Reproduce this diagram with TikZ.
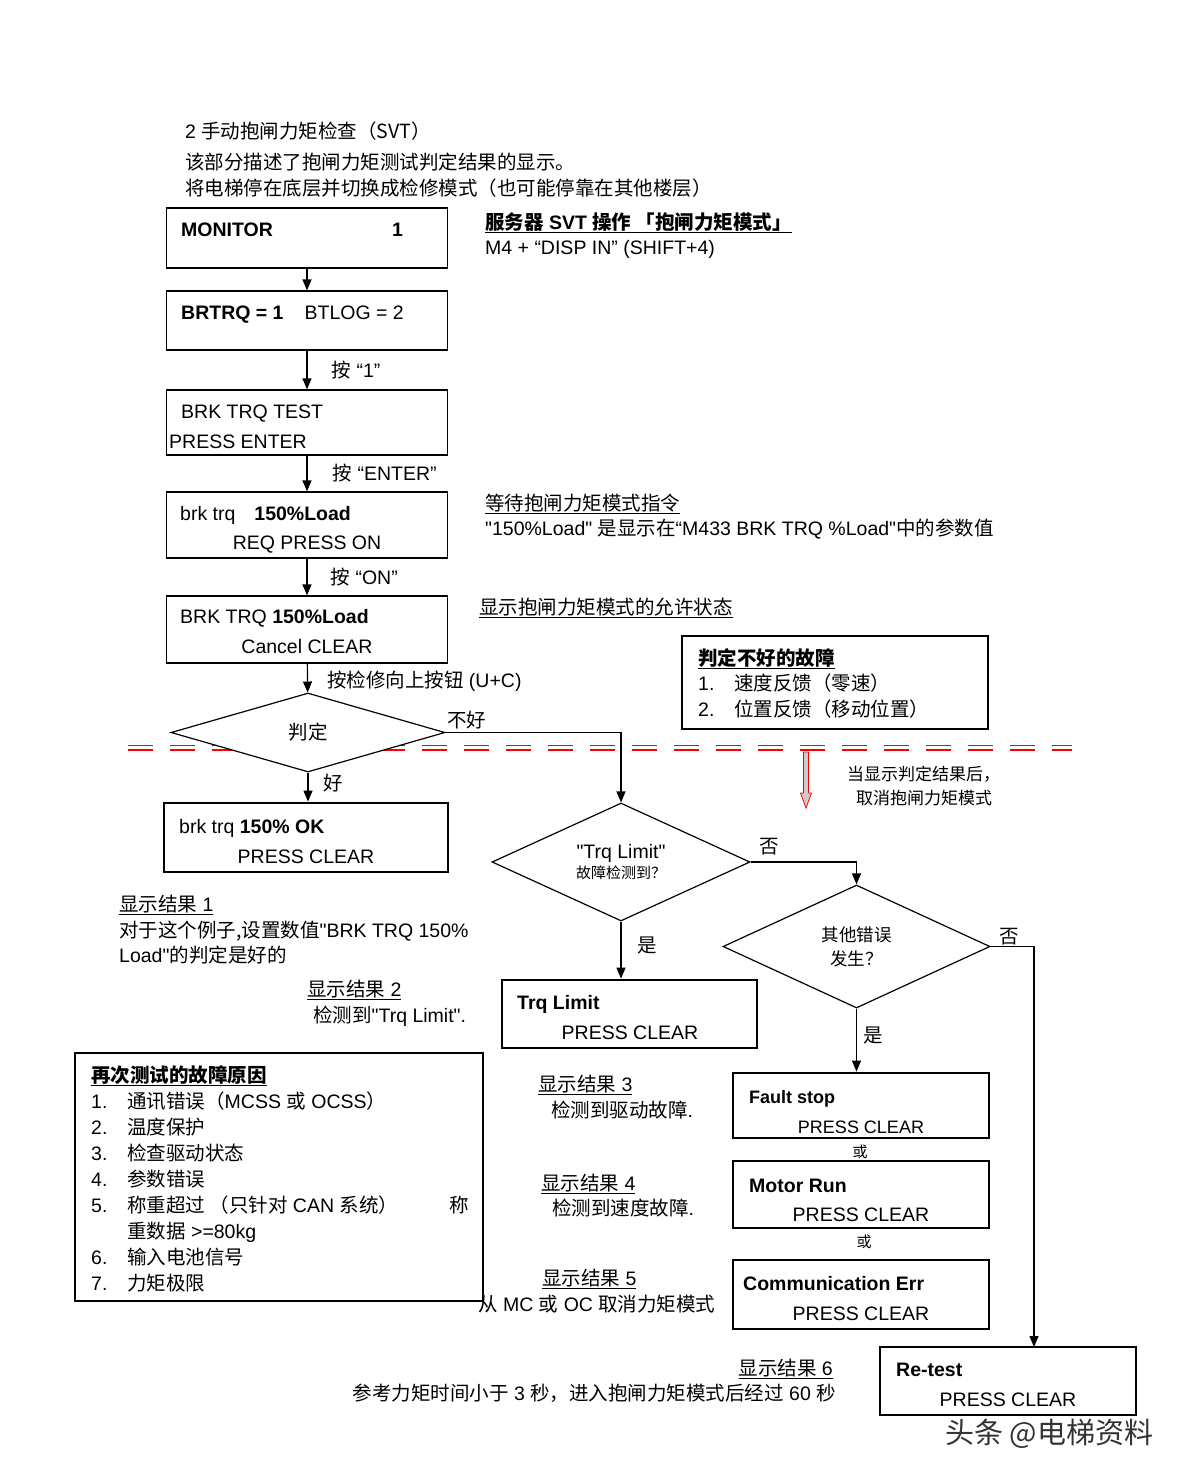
\documentclass[tikz,border=0pt]{standalone}
\usepackage{fontspec}
\setmainfont{Liberation Sans}[Ligatures=TeXOff]
\newfontfamily\cjk{Noto Sans CJK SC}[Ligatures=TeXOff]
\usetikzlibrary{arrows.meta,positioning,shapes.geometric,calc}
\newcommand{\zh}[1]{{\cjk #1}}

\begin{document}
\begin{tikzpicture}[x=1pt,y=-1pt,>={Triangle[length=11pt,width=9pt]},
	box/.style={draw,line width=1.2pt,inner sep=0pt,minimum width=281pt},
	res box/.style={draw,line width=2.8pt,inner sep=0pt,minimum width=256pt},
	decide/.style={diamond,draw,line width=1.2pt,fill=white,inner sep=0pt,align=center,
		font=\fontsize{19.5}{23}\selectfont},
	txt/.style={inner sep=0pt,anchor=base west,font=\fontsize{19.5}{23}\selectfont},
	lbl/.style={inner sep=0pt,font=\fontsize{19.5}{23}\selectfont},
	flow/.style={line width=1.2pt,->},
	cut line/.style={red,line width=1.8pt,dash pattern=on 25pt off 17pt}]

\useasboundingbox (0,0) rectangle (1191,1475);

% header
\node[txt] (head) at (185,138) {2 \zh{手动抱闸力矩检查（SVT）}};
\node[txt] (intro) at (185,169) {\zh{该部分描述了抱闸力矩测试判定结果的显示。}};
\node[txt] (park) at (185,195) {\zh{将电梯停在底层并切换成检修模式（也可能停靠在其他楼层）}};

% red cut line, behind the decision
\draw[cut line] (128,745.5) -- (1072,745.5);
\draw[cut line] (128,750) -- (1072,750);
\filldraw[draw=red,fill=black!20,line width=0.8pt] (803.5,752) -- (803.5,793) -- (800.5,793)
	-- (806,808) -- (811.5,793) -- (808.5,793) -- (808.5,752) -- cycle;

% main chain
\node[box,minimum height=60pt] (mon) at (307,238) {};
\node[box,minimum height=59pt,below=21.8pt of mon] (brtrq) {};
\node[box,minimum height=65pt,below=38.8pt of brtrq] (test) {};
\node[box,minimum height=66pt,below=35.8pt of test] (load) {};
\node[box,minimum height=67pt,below=36.8pt of load] (cancel) {};
\node[decide,aspect=3.47,minimum width=274pt,minimum height=79pt] (judge) at (308,732.5) {\zh{判定}};
\node[res box,minimum width=284pt,minimum height=69pt] (ok) at (306,837.5) {};

% right branch
\node[decide,aspect=2.2,minimum width=258pt,minimum height=118pt] (trq) at (621,862)
	{"Trq Limit"\\[-3pt]{\fontsize{15}{17}\selectfont\zh{故障检测到？}}};
\node[decide,aspect=2.17,minimum width=267pt,minimum height=123pt,font=\fontsize{17.5}{24}\selectfont]
	(other) at (856.5,946.5) {\zh{其他错误}\\\zh{发生？}};
\node[res box,minimum width=255pt,minimum height=68pt] (trqbox) at (629.5,1014) {};
\node[res box,minimum height=65pt] (fault) at (861,1105.5) {};
\node[res box,minimum height=67pt] (motor) at (861,1194.5) {};
\node[res box,minimum height=69pt] (comm) at (861,1294.5) {};
\node[res box,minimum height=68pt] (retest) at (1008,1381) {};
\coordinate (retIn) at (1034,1347);

\node[box,minimum width=306pt,minimum height=93pt] (bad) at (835,682.5) {};
\node[box,minimum width=408pt,minimum height=248pt] (causes) at (279,1177) {};

% connectors
\draw[flow] (mon) -- (brtrq);
\draw[flow] (brtrq) -- node[lbl,right=24pt] (key1) {\zh{按} “1”} (test);
\draw[flow] (test) -- node[lbl,right=25pt] (keyEnter) {\zh{按} “ENTER”} (load);
\draw[flow] (load) -- node[lbl,right=23pt] (keyOn) {\zh{按} “ON”} (cancel);
\draw[flow] (cancel) -- node[lbl,right=19pt,yshift=-3pt] (keyUp) {\zh{按检修向上按钮} (U+C)} (judge);
\draw[flow] (judge.south) -- node[lbl,right=15pt,yshift=4pt] (good) {\zh{好}} (judge.south |- ok.north);
\draw[flow] (judge.east) -| (trq.north);
\draw[flow] (trq.south) -- (trq.south |- trqbox.north);
\draw[flow] (trq.east) -| (other.north);
\draw[flow] (other.south) -- (other.south |- fault.north);
\draw[flow] (other.east) -| (retIn);

\node[txt] (notgood) at (447,727) {\zh{不好}};
\node[txt] (no1) at (759,853) {\zh{否}};
\node[txt] (yes1) at (637,952) {\zh{是}};
\node[txt] (no2) at (999,943) {\zh{否}};
\node[txt] (yes2) at (863,1042) {\zh{是}};

% box texts
\node[txt] (monA) at (181,236) {\textbf{MONITOR}};
\node[txt] (monB) at (392,236) {\textbf{1}};
\node[txt] (brtrqA) at (181,319) {\textbf{BRTRQ = 1}\hspace{21pt}BTLOG = 2};
\node[txt] (testA) at (181,418) {BRK TRQ TEST};
\node[txt] (testB) at (169,448) {PRESS ENTER};
\node[txt] (loadA) at (180,520) {brk trq\hspace{19pt}\textbf{150\%Load}};
\node[txt,anchor=base] (loadB) at (307,549) {REQ PRESS ON};
\node[txt] (cancelA) at (180,623) {BRK TRQ \textbf{150\%Load}};
\node[txt,anchor=base] (cancelB) at (307,653) {Cancel CLEAR};
\node[txt] (okA) at (179,833) {brk trq \textbf{150\% OK}};
\node[txt,anchor=base] (okB) at (306,863) {PRESS CLEAR};
\node[txt] (trqA) at (517,1009) {\textbf{Trq Limit}};
\node[txt,anchor=base] (trqB) at (630,1039) {PRESS CLEAR};
\node[txt,font=\fontsize{18}{20}\selectfont] (faultA) at (749,1103) {\textbf{Fault stop}};
\node[txt,anchor=base,font=\fontsize{18}{20}\selectfont] (faultB) at (861,1133) {PRESS CLEAR};
\node[txt,anchor=base,font=\fontsize{15}{17}\selectfont] (or1) at (860,1157) {\zh{或}};
\node[txt] (motorA) at (749,1192) {\textbf{Motor Run}};
\node[txt,anchor=base] (motorB) at (861,1221) {PRESS CLEAR};
\node[txt,anchor=base,font=\fontsize{15}{17}\selectfont] (or2) at (864,1247) {\zh{或}};
\node[txt] (commA) at (743,1290) {\textbf{Communication Err}};
\node[txt,anchor=base] (commB) at (861,1320) {PRESS CLEAR};
\node[txt] (retestA) at (896,1376) {\textbf{Re-test}};
\node[txt,anchor=base] (retestB) at (1008,1406) {PRESS CLEAR};

% notes on the right
\node[txt] (svt) at (485,229) {\underline{\zh{\bfseries 服务器} \textbf{SVT} \zh{\bfseries 操作 「抱闸力矩模式」}}};
\node[txt] (m4) at (485,254) {M4 + “DISP IN” (SHIFT+4)};
\node[txt] (wait) at (485,510) {\underline{\zh{等待抱闸力矩模式指令}}};
\node[txt] (loadinfo) at (485,535) {"150\%Load" \zh{是显示在}“M433 BRK TRQ \%Load"\zh{中的参数值}};
\node[txt] (allow) at (479,614) {\underline{\zh{显示抱闸力矩模式的允许状态}}};

\node[txt] (badT) at (698,665) {\underline{\zh{\bfseries 判定不好的故障}}};
\node[txt] (bad1) at (698,690) {\makebox[36pt][l]{1.}\zh{速度反馈（零速）}};
\node[txt] (bad2) at (698,716) {\makebox[36pt][l]{2.}\zh{位置反馈（移动位置）}};

\node[txt,font=\fontsize{17}{20}\selectfont] (note1) at (847,780) {\zh{当显示判定结果后，}};
\node[txt,font=\fontsize{17}{20}\selectfont] (note2) at (856,804) {\zh{取消抱闸力矩模式}};

% results
\node[txt] (res1) at (119,911) {\underline{\zh{显示结果} 1}};
\node[txt] (res1a) at (119,937) {\zh{对于这个例子,设置数值}"BRK TRQ 150\%};
\node[txt] (res1b) at (119,962) {Load"\zh{的判定是好的}};
\node[txt] (res2) at (307,996) {\underline{\zh{显示结果} 2}};
\node[txt] (res2a) at (313,1022) {\zh{检测到}"Trq Limit".};
\node[txt] (res3) at (538,1091) {\underline{\zh{显示结果} 3}};
\node[txt] (res3a) at (551,1117) {\zh{检测到驱动故障}.};
\node[txt] (res4) at (541,1190) {\underline{\zh{显示结果} 4}};
\node[txt] (res4a) at (552,1215) {\zh{检测到速度故障}.};
\node[txt] (res5) at (542,1285) {\underline{\zh{显示结果} 5}};
\node[txt] (res5a) at (478,1311) {\zh{从} MC \zh{或} OC \zh{取消力矩模式}};
\node[txt,anchor=base east] (res6) at (833,1375) {\underline{\zh{显示结果} 6}};
\node[txt,anchor=base east] (res6a) at (836,1400) {\zh{参考力矩时间小于} 3 \zh{秒，进入抱闸力矩模式后经过} 60 \zh{秒}};

% causes list
\node[txt] (causesT) at (91,1082) {\underline{\zh{\bfseries 再次测试的故障原因}}};
\node[txt] (c1) at (91,1108) {\makebox[36pt][l]{1.}\zh{通讯错误（}MCSS \zh{或} OCSS\zh{）}};
\node[txt] (c2) at (91,1134) {\makebox[36pt][l]{2.}\zh{温度保护}};
\node[txt] (c3) at (91,1160) {\makebox[36pt][l]{3.}\zh{检查驱动状态}};
\node[txt] (c4) at (91,1186) {\makebox[36pt][l]{4.}\zh{参数错误}};
\node[txt] (c5) at (91,1212) {\makebox[36pt][l]{5.}\makebox[322pt][l]{\zh{称重超过 （只针对} CAN \zh{系统）}}\zh{称}};
\node[txt] (c5b) at (127,1238) {\zh{重数据} >=80kg};
\node[txt] (c6) at (91,1264) {\makebox[36pt][l]{6.}\zh{输入电池信号}};
\node[txt] (c7) at (91,1290) {\makebox[36pt][l]{7.}\zh{力矩极限}};

\node[txt,font=\fontsize{29}{32}\selectfont,text=black!80] (mark) at (945,1443) {\zh{头条 @电梯资料}};

\end{tikzpicture}
\end{document}
